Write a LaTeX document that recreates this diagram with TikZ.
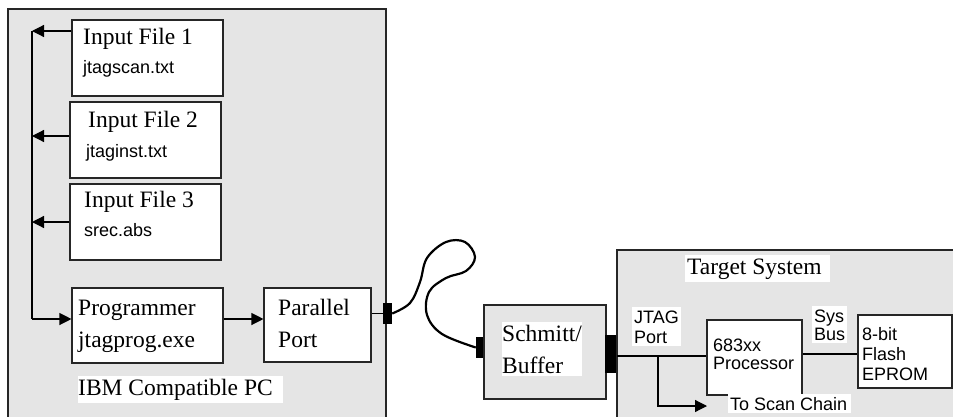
\documentclass[tikz,border=0pt]{standalone}
\usepackage{fontspec}
\setmainfont{Liberation Serif}
\setsansfont{Liberation Sans}
\usetikzlibrary{arrows.meta, positioning}

\definecolor{boxgray}{RGB}{229,229,229}

\tikzset{
  box/.style={draw=black!85, line width=1.1pt, fill=white, inner sep=0pt},
  serif/.style={font=\fontsize{23.5}{31.5}\selectfont, inner sep=0pt, align=left},
  sans/.style={font=\sffamily\fontsize{18}{20}\selectfont, inner sep=0pt, align=left},
  tag/.style={fill=white, inner xsep=2pt, inner ysep=3pt},
  conn/.style={fill=black, inner sep=0pt},
  arr/.style={line width=1.2pt, -{Triangle[length=12pt,width=12pt]}},
  wire/.style={line width=2.6pt}
}

\begin{document}
\begin{tikzpicture}[x=1pt, y=-1pt]
    \useasboundingbox (0,0) rectangle (953,416);
    \clip (0,0) rectangle (953,416);

    % PC
    \draw[draw=black!85, line width=1.1pt, fill=boxgray] (8,9) rectangle (386,430);
    \node[box, minimum width=151, minimum height=76] (in1) at (147.5,58) {};
    \node[box, minimum width=151, minimum height=76] (in2) at (145.5,140) {};
    \node[box, minimum width=151, minimum height=76] (in3) at (145.5,222) {};
    \node[box, minimum width=151, minimum height=75] (prog) at (147.5,325.5) {};
    \node[box, minimum width=107, minimum height=74] (pport) at (317.5,325) {};

    % multi-line nodes sit on the baseline of their last line
    \node[serif, anchor=base west] (in1t) at (83,44) {Input File 1};
    \node[sans, anchor=base west] (in1f) at (83,73) {jtagscan.txt};
    \node[serif, anchor=base west] (in2t) at (88,127) {Input File 2};
    \node[sans, anchor=base west] (in2f) at (86,157) {jtaginst.txt};
    \node[serif, anchor=base west] (in3t) at (84,207) {Input File 3};
    \node[sans, anchor=base west] (in3f) at (84,236) {srec.abs};
    \node[serif, anchor=base west] (progt) at (78,347) {Programmer\\jtagprog.exe};
    \node[serif, anchor=base west] (pportt) at (278,347) {Parallel\\Port};
    \node[serif, tag, anchor=base west, inner xsep=0pt] (pc) at (78,395) {IBM Compatible PC\hspace{10pt}};

    \coordinate (bustop) at (32,31);
    \coordinate (busbot) at (32,319);
    \draw[line width=1.2pt] (bustop) -- (busbot);
    \draw[arr] (in1.west |- bustop) -- (bustop);
    \draw[arr] ([yshift=4pt]in2.west) -- ([yshift=4pt]in2.west -| bustop);
    \draw[arr] (in3.west) -- (in3.west -| bustop);
    \draw[arr] (busbot) -- (prog.west |- busbot);
    \draw[arr] (prog.east |- busbot) -- (pport.west |- busbot);

    % cable
    \node[conn, minimum width=9, minimum height=21] (pconn) at (387.5,313.5) {};
    \node[conn, minimum width=8, minimum height=21] (sconn) at (480,347.5) {};
    \draw[line width=1.6pt] (pport.east |- pconn) -- (pconn.west);
    \draw[wire, line width=2.2pt] plot[smooth, tension=0.6] coordinates {(pconn.east) (410,303) (420,282) (427,258) (446,242) (465,242) (475,257) (466,271) (446,278) (429,292) (427,315) (442,334) (sconn.west)};

    % buffer
    \node[box, fill=boxgray, minimum width=122, minimum height=94] (schmitt) at (545,352) {};
    \node[serif, tag, anchor=base west, inner xsep=0pt] (schmittt) at (502,373) {Schmitt/\hspace{12pt}\\Buffer};
    \node[conn, minimum width=12, minimum height=38] (tconn) at (611,354) {};

    % target
    \draw[draw=black!85, line width=1.1pt, fill=boxgray] (617,250) rectangle (970,430);
    \node[serif, tag, anchor=base west] (target) at (685,274) {Target System\hspace{6pt}};
    \node[box, minimum width=95, minimum height=75] (proc) at (754.5,357.5) {};
    \node[box, minimum width=94, minimum height=73] (flash) at (905,351.5) {};
    \node[sans, tag, anchor=base west] (jtag) at (632,343) {JTAG\\Port};
    \node[sans, tag, anchor=base west, font=\sffamily\fontsize{18}{18}\selectfont] (sysbus) at (812,340) {Sys\\Bus};
    \node[sans, anchor=base west, font=\sffamily\fontsize{18}{17.5}\selectfont] (proct) at (713,369) {683xx\\Processor};
    \node[sans, anchor=base west] (flasht) at (862,380) {8-bit\\Flash\\EPROM};
    \node[sans, tag, anchor=base west] (scan) at (728,410) {To Scan Chain\hspace{2pt}};

    \coordinate (branch) at (658,356);
    \coordinate (chain) at (707,406);
    \draw[wire] (tconn.east |- branch) -- (proc.west |- branch);
    \draw[wire] (proc.east |- 0,354) -- (flash.west |- 0,354);
    \draw[arr] (branch) |- (chain);
\end{tikzpicture}
\end{document}
